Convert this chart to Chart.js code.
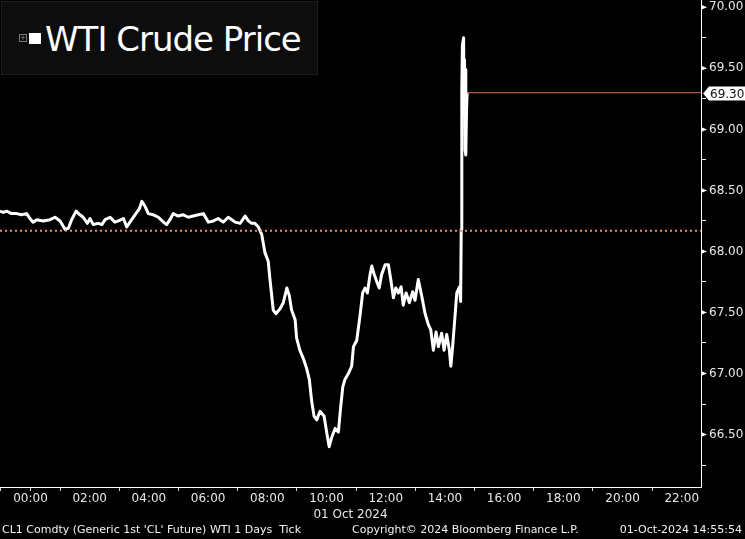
<!DOCTYPE html>
<html>
<head>
<meta charset="utf-8">
<script src="https://cdn.jsdelivr.net/npm/chart.js@4.4.1/dist/chart.umd.min.js"></script>
<style>
    html, body { margin: 0; padding: 0; background: #000; }
    #wrap { position: relative; width: 745px; height: 539px; overflow: hidden; }
    #title {
        position: absolute; left: 1px; top: 1px; width: 317px; height: 74px;
        background: #0d0d0d; border: 1px solid #1e1e1e; box-sizing: border-box;
    }
    #title .icon {
        position: absolute; left: 17px; top: 32px; width: 6px; height: 6px;
        border: 1px solid #777; font: 7px/6px "DejaVu Sans"; color: #999; text-align: center;
    }
    #title .sq { position: absolute; left: 27px; top: 31px; width: 12px; height: 11px; background: #fff; }
    #title .txt {
        position: absolute; left: 43px; top: 20px; color: #fff;
        font: 34px/34px "DejaVu Sans"; letter-spacing: -1px; white-space: nowrap;
    }
    .foot {
        position: absolute; top: 523px; color: #f2f2f2; white-space: nowrap;
        font: 11px/13px "DejaVu Sans";
    }
</style>
</head>
<body>
<div id="wrap">
    <canvas id="wtiChart"></canvas>
    <div id="title"><div class="icon">+</div><div class="sq"></div><div class="txt">WTI Crude Price</div></div>
    <div class="foot" style="left:2px">CL1 Comdty (Generic 1st 'CL' Future) WTI 1 Days&nbsp;&nbsp;Tick</div>
    <div class="foot" style="left:352px">Copyright© 2024 Bloomberg Finance L.P.</div>
    <div class="foot" style="right:3px">01-Oct-2024 14:55:54</div>
</div>
<script>
// time of day in hours (01 Oct 2024), negative = previous evening
const hours = [
    -1.03, -0.92, -0.80, -0.64, -0.47, -0.30, -0.13, -0.02, 0.09, 0.21,
    0.43, 0.66, 0.83, 1.00, 1.17, 1.28, 1.39, 1.54, 1.67, 1.78,
    1.92, 2.01, 2.12, 2.29, 2.41, 2.52, 2.69, 2.85, 2.97, 3.14,
    3.25, 3.36, 3.53, 3.68, 3.76, 3.87, 3.98, 4.15, 4.32, 4.49,
    4.60, 4.71, 4.82, 4.99, 5.16, 5.33, 5.50, 5.67, 5.84, 6.01,
    6.18, 6.34, 6.51, 6.68, 6.80, 6.91, 7.08, 7.25, 7.36, 7.47,
    7.58, 7.70, 7.81, 7.92, 8.03, 8.09, 8.20, 8.29, 8.43, 8.54,
    8.66, 8.74, 8.82, 8.94, 8.99, 9.10, 9.22, 9.33, 9.42, 9.50,
    9.58, 9.67, 9.78, 9.92, 10.01, 10.09, 10.18, 10.29, 10.40, 10.48,
    10.55, 10.62, 10.74, 10.85, 10.91, 11.02, 11.13, 11.22, 11.30, 11.38,
    11.47, 11.53, 11.60, 11.70, 11.78, 11.86, 11.98, 12.09, 12.17, 12.26,
    12.34, 12.43, 12.52, 12.59, 12.69, 12.80, 12.91, 12.99, 13.10, 13.22,
    13.33, 13.44, 13.52, 13.61, 13.70, 13.78, 13.89, 13.97, 14.06, 14.15,
    14.20, 14.26, 14.34, 14.40, 14.49, 14.53, 14.55, 14.57, 14.59, 14.63,
    14.65, 14.66, 14.68, 14.70, 14.71, 14.73, 14.75
];
const prices = [
    68.33, 68.32, 68.33, 68.31, 68.31, 68.30, 68.31, 68.27, 68.24, 68.26,
    68.25, 68.26, 68.28, 68.25, 68.18, 68.19, 68.26, 68.33, 68.30, 68.28,
    68.23, 68.27, 68.22, 68.23, 68.22, 68.26, 68.28, 68.24, 68.25, 68.27,
    68.20, 68.24, 68.30, 68.35, 68.41, 68.37, 68.31, 68.30, 68.28, 68.24,
    68.22, 68.26, 68.31, 68.29, 68.30, 68.28, 68.29, 68.30, 68.31, 68.24,
    68.25, 68.27, 68.24, 68.28, 68.26, 68.24, 68.23, 68.29, 68.25, 68.23,
    68.23, 68.20, 68.14, 67.99, 67.92, 67.77, 67.52, 67.49, 67.53, 67.58,
    67.70, 67.64, 67.52, 67.44, 67.29, 67.19, 67.12, 67.04, 66.95, 66.77,
    66.65, 66.62, 66.69, 66.65, 66.51, 66.40, 66.48, 66.55, 66.52, 66.73,
    66.89, 66.95, 67.00, 67.06, 67.22, 67.27, 67.47, 67.66, 67.70, 67.66,
    67.81, 67.88, 67.82, 67.75, 67.70, 67.81, 67.89, 67.89, 67.77, 67.62,
    67.70, 67.66, 67.71, 67.56, 67.66, 67.58, 67.67, 67.60, 67.77, 67.63,
    67.49, 67.40, 67.36, 67.19, 67.34, 67.22, 67.33, 67.19, 67.32, 67.19,
    67.06, 67.22, 67.47, 67.66, 67.71, 67.59, 68.18, 69.32, 69.69, 69.75,
    69.16, 69.57, 68.83, 69.49, 68.79, 69.16, 69.30
];
const prevSettle = 68.17;
const lastPrice = 69.30;
const hourLabels = ['00:00', '02:00', '04:00', '06:00', '08:00', '10:00',
    '12:00', '14:00', '16:00', '18:00', '20:00', '22:00'];
const priceLabels = ['66.50', '67.00', '67.50', '68.00', '68.50', '69.00', '69.50', '70.00'];
const dateLabel = '01 Oct 2024';

const xMin = -1.03, xMax = 22.65;
const yMin = 66.07, yMax = 70.06;

const font = '"DejaVu Sans"';
const isHalf = v => Math.abs(v * 2 - Math.round(v * 2)) < 1e-6;

// tick arrows on the price axis and the last price tag
const axisMarks = {
    id: 'axisMarks',
    afterDraw(chart) {
        const { ctx, chartArea } = chart;
        const y = chart.scales.y;
        const r = chartArea.right;
        ctx.save();
        ctx.fillStyle = '#fff';
        y.ticks.forEach(t => {
            if (!isHalf(t.value)) return;
            const py = y.getPixelForValue(t.value);
            ctx.beginPath();
            ctx.moveTo(r, py - 2.5);
            ctx.lineTo(r + 6, py);
            ctx.lineTo(r, py + 2.5);
            ctx.closePath();
            ctx.fill();
        });
        const py = Math.round(y.getPixelForValue(lastPrice)) + 0.5;
        const x0 = r + 2;
        ctx.beginPath();
        ctx.moveTo(x0, py);
        ctx.lineTo(x0 + 6, py - 7);
        ctx.lineTo(chart.width, py - 7);
        ctx.lineTo(chart.width, py + 7);
        ctx.lineTo(x0 + 6, py + 7);
        ctx.closePath();
        ctx.fill();
        ctx.fillStyle = '#111';
        ctx.font = '12px ' + font;
        ctx.textBaseline = 'middle';
        ctx.fillText(lastPrice.toFixed(2), x0 + 7, py + 1);
        ctx.restore();
    }
};

const ctx = document.getElementById('wtiChart').getContext('2d');
new Chart(ctx, {
    type: 'line',
    data: {
        datasets: [{
            data: [{ x: xMin, y: prevSettle }, { x: xMax, y: prevSettle }],
            borderColor: '#e8915f',
            borderWidth: 2,
            borderDash: [2, 3],
            pointRadius: 0,
            order: 0
        }, {
            data: [{ x: hours[hours.length - 1], y: lastPrice }, { x: xMax, y: lastPrice }],
            borderColor: '#d9704f',
            borderWidth: 1,
            pointRadius: 0,
            order: 0
        }, {
            data: hours.map((h, i) => ({ x: h, y: prices[i] })),
            borderColor: '#ffffff',
            borderWidth: 3,
            borderJoinStyle: 'round',
            pointRadius: 0,
            tension: 0,
            order: 1
        }]
    },
    options: {
        responsive: true,
        maintainAspectRatio: false,
        animation: false,
        layout: { padding: { left: 0, right: 0, top: 0, bottom: 17 } },
        plugins: {
            legend: { display: false },
            tooltip: { enabled: false }
        },
        scales: {
            x: {
                type: 'linear',
                position: 'bottom',
                min: xMin,
                max: xMax,
                afterFit(scale) {
                    scale.height = 35;
                    scale.paddingLeft = 0;
                    scale.paddingRight = 0;
                },
                ticks: {
                    stepSize: 1,
                    includeBounds: false,
                    autoSkip: false,
                    maxRotation: 0,
                    padding: 1,
                    color: '#e8e8e8',
                    font: { family: font, size: 12 },
                    callback: v => (v >= 0 && v % 2 === 0) ? hourLabels[v / 2] : ''
                },
                grid: {
                    drawOnChartArea: false,
                    tickLength: 4,
                    color: c => (Math.abs(c.tick.value % 2) === 1 || c.tick.value === 0) ? '#cfcfcf' : 'rgba(0,0,0,0)'
                },
                border: { color: '#ffffff', width: 1 },
                title: {
                    display: true,
                    text: dateLabel,
                    color: '#e8e8e8',
                    font: { family: font, size: 12 },
                    padding: { top: 0, bottom: 0 }
                }
            },
            y: {
                type: 'linear',
                position: 'right',
                min: yMin,
                max: yMax,
                afterFit(scale) {
                    scale.width = 44;
                    scale.paddingTop = 0;
                    scale.paddingBottom = 0;
                },
                ticks: {
                    stepSize: 0.25,
                    includeBounds: false,
                    autoSkip: false,
                    padding: 3,
                    color: '#e8e8e8',
                    font: { family: font, size: 12 },
                    callback: v => isHalf(v) ? priceLabels[Math.round((v - 66.5) * 2)] : ''
                },
                grid: {
                    drawOnChartArea: false,
                    tickLength: 5,
                    color: '#ffffff'
                },
                border: { color: '#ffffff', width: 1 }
            }
        }
    },
    plugins: [axisMarks]
});
</script>
</body>
</html>
